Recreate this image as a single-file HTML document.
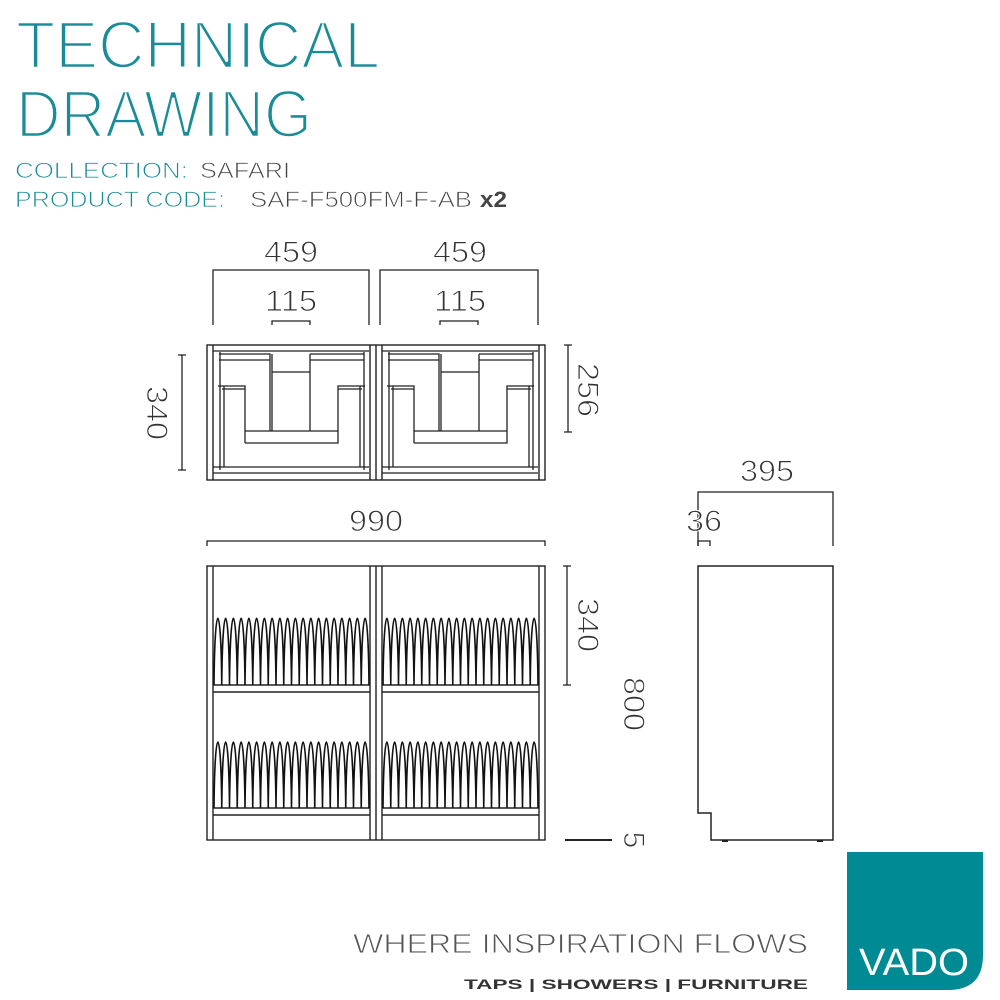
<!DOCTYPE html>
<html><head><meta charset="utf-8"><style>
html,body{margin:0;padding:0;background:#fff;width:1000px;height:1000px;overflow:hidden}
svg{display:block}
</style></head><body>
<svg id="s" width="1000" height="1000" viewBox="0 0 1000 1000" xmlns="http://www.w3.org/2000/svg" font-family="Liberation Sans, sans-serif">
<g fill="#1a8c97" stroke="#fff">
<text x="16" y="68" font-size="67" stroke-width="2.6" textLength="364" lengthAdjust="spacingAndGlyphs">TECHNICAL</text>
<text x="16" y="137" font-size="67" stroke-width="2.6" textLength="296" lengthAdjust="spacingAndGlyphs">DRAWING</text>
<text x="15" y="178" font-size="22" stroke-width="0.8" textLength="173" lengthAdjust="spacingAndGlyphs">COLLECTION:</text>
<text x="15" y="207" font-size="22" stroke-width="0.8" textLength="210" lengthAdjust="spacingAndGlyphs">PRODUCT CODE:</text>
</g>
<g fill="#444">
<text x="200" y="178" font-size="22" stroke="#fff" stroke-width="0.8" textLength="90" lengthAdjust="spacingAndGlyphs">SAFARI</text>
<text x="250" y="207" font-size="22" stroke="#fff" stroke-width="0.8" textLength="222" lengthAdjust="spacingAndGlyphs">SAF-F500FM-F-AB</text>
<text x="480" y="207" font-size="22" font-weight="bold" textLength="27" lengthAdjust="spacingAndGlyphs">x2</text>
</g>

<g stroke="#222" stroke-width="1.3" fill="none">
<path d="M213 325V270H369V325M272 325V321H310V325M380 325V270H538V325M440 325V321H478V325"/>
<path d="M178 355H186M182 355V470M178 470H186"/>
<path d="M564 345H572M568 345V432M564 432H572"/>
<path d="M207 546V541H545V546"/>
<path d="M563 566H571M567 566V685M563 685H571"/>
<path d="M698 546V541H710V546"/>
<path d="M698 546V492H833V546"/>
<path d="M565 840H612" stroke-width="2"/>
</g>
<g fill="#333" font-size="30" stroke="#fff" stroke-width="1">
<text x="291" y="262" text-anchor="middle" textLength="54" lengthAdjust="spacingAndGlyphs">459</text>
<text x="460" y="262" text-anchor="middle" textLength="54" lengthAdjust="spacingAndGlyphs">459</text>
<text x="291" y="311" text-anchor="middle" textLength="52" lengthAdjust="spacingAndGlyphs">115</text>
<text x="460" y="311" text-anchor="middle" textLength="52" lengthAdjust="spacingAndGlyphs">115</text>
<text x="376" y="531" text-anchor="middle" textLength="54" lengthAdjust="spacingAndGlyphs">990</text>
<text x="767" y="481" text-anchor="middle" textLength="54" lengthAdjust="spacingAndGlyphs">395</text>
<text x="704" y="531" text-anchor="middle" textLength="36" lengthAdjust="spacingAndGlyphs">36</text>
<text transform="translate(147,413) rotate(90)" text-anchor="middle" textLength="54" lengthAdjust="spacingAndGlyphs">340</text>
<text transform="translate(578,390) rotate(90)" text-anchor="middle" textLength="54" lengthAdjust="spacingAndGlyphs">256</text>
<text transform="translate(578,625) rotate(90)" text-anchor="middle" textLength="54" lengthAdjust="spacingAndGlyphs">340</text>
<text transform="translate(624,704) rotate(90)" text-anchor="middle" textLength="54" lengthAdjust="spacingAndGlyphs">800</text>
<text transform="translate(624,840) rotate(90)" text-anchor="middle">5</text>
</g>

<g stroke="#222" stroke-width="1.4" fill="none">
<rect x="207" y="345" width="338" height="135"/>
<path d="M370 345V480M376 345V480M382 345V480M213 345V480M539 345V480"/>
</g>
<g id="units" stroke="#222" stroke-width="1.3" fill="none"></g>

<g stroke="#222" stroke-width="1.4" fill="none">
<rect x="207" y="566" width="338" height="274"/>
<path d="M213 566V840M370 566V840M376 566V840M382 566V840M539 566V840"/>
<path d="M213 685H370M213 692H370M382 685H539M382 692H539"/>
<path d="M213 808H370M213 815H370M382 808H539M382 815H539"/>
</g>
<g id="zz" stroke="#111" stroke-width="1.6" fill="none"></g>

<path d="M698 566H833V840H711V813H698Z" stroke="#222" stroke-width="1.5" fill="none"/>
<rect x="722" y="840" width="6" height="2" fill="#222"/>
<rect x="817" y="840" width="6" height="2" fill="#222"/>

<text x="353" y="953" font-size="28" fill="#555" stroke="#fff" stroke-width="0.9" textLength="455" lengthAdjust="spacingAndGlyphs">WHERE INSPIRATION FLOWS</text>
<text x="464" y="989" font-size="14" font-weight="bold" fill="#333" textLength="344" lengthAdjust="spacingAndGlyphs">TAPS | SHOWERS | FURNITURE</text>
<path d="M847 852H983V955Q983 990 948 990H847Z" fill="#008a93"/>
<text x="914" y="975" font-size="38" fill="#fff" text-anchor="middle" textLength="110" lengthAdjust="spacingAndGlyphs">VADO</text>
</svg>
<script>
var ns="http://www.w3.org/2000/svg";
function P(g,d){var p=document.createElementNS(ns,"path");p.setAttribute("d",d);document.getElementById(g).appendChild(p);}
[207,376].forEach(function(x0){
 var o=x0-207;
 function X(v){return v+o;}
 P("units","M"+X(213)+" 351H"+X(369)+" M"+X(220)+" 352V470 M"+X(364)+" 352V470 M"+X(213)+" 467H"+X(369)+" M"+X(213)+" 473H"+X(369));
 P("units","M"+X(219)+" 354H"+X(270)+"V431 M"+X(219)+" 360H"+X(270));
 P("units","M"+X(310)+" 354H"+X(364)+" M"+X(310)+" 360H"+X(364)+" M"+X(310)+" 354V431");
 P("units","M"+X(272)+" 354V372H"+X(310)+" M"+X(272)+" 372V431");
 P("units","M"+X(218)+" 386H"+X(245)+"V431H"+X(338)+"V386H"+X(365)+" M"+X(222)+" 389H"+X(245)+" M"+X(338)+" 389H"+X(362)+" M"+X(245)+" 443H"+X(338)+"V431 M"+X(245)+" 431V443 M"+X(224)+" 386V467 M"+X(360)+" 386V467");
});
function zz(x0,x1,yt,yb){var n=20,w=(x1-x0)/n,d="M"+x0+" "+yb;
 for(var i=0;i<n;i++){var a=x0+i*w;d+=" C"+(a+w*0.1)+" "+(yt-4)+" "+(a+w*0.9)+" "+(yt-4)+" "+(a+w)+" "+yb;}
 P("zz",d);}
zz(214,369,600,685);zz(383,538,600,685);
zz(214,369,724,808);zz(383,538,724,808);
</script>
</body></html>
